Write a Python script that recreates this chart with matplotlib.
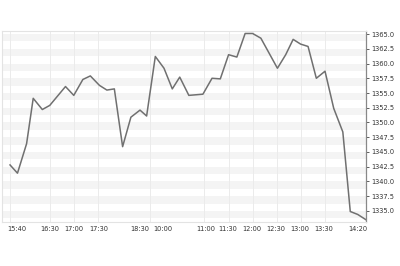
import matplotlib
matplotlib.use("Agg")
import matplotlib.pyplot as plt
import numpy as np

# data (x in bar-index units, y price)
x_pos = [0, 0.9, 2.0, 2.8, 3.9, 4.8, 6.7, 7.7, 8.8, 9.7, 10.8, 11.7, 12.6, 13.6,
         14.6, 15.7, 16.5, 17.55, 18.6, 19.6, 20.5, 21.6, 23.3, 24.4, 25.4, 26.4,
         27.4, 28.4, 29.3, 30.3, 32.3, 33.3, 34.2, 35.1, 36.0, 37.0, 38.05, 39.1,
         40.2, 41.1, 42.0, 43.0]
prices = [1342.8, 1341.4, 1346.4, 1354.1, 1352.2, 1352.9, 1356.1, 1354.6, 1357.3,
          1357.9, 1356.3, 1355.5, 1355.7, 1345.9, 1350.9, 1352.1, 1351.1, 1361.2,
          1359.2, 1355.7, 1357.7, 1354.6, 1354.8, 1357.5, 1357.4, 1361.5, 1361.1,
          1365.1, 1365.1, 1364.3, 1359.2, 1361.5, 1364.1, 1363.3, 1362.9, 1357.5,
          1358.7, 1352.4, 1348.4, 1334.9, 1334.4, 1333.5]

tick_pos = [0.8, 4.84, 7.75, 10.7, 15.7, 18.5, 23.6, 26.3, 29.2, 32.1, 35.0, 37.9, 42.0]
tick_labels = ["15:40", "16:30", "17:00", "17:30", "18:30", "10:00", "11:00",
               "11:30", "12:00", "12:30", "13:00", "13:30", "14:20"]
grid_pos = [0, 4.84, 7.75, 10.65, 16.95, 23.4, 26.4, 29.3, 32.3, 35.1, 38.1]
y_ticks = [1335.0, 1337.5, 1340.0, 1342.5, 1345.0, 1347.5, 1350.0, 1352.5,
           1355.0, 1357.5, 1360.0, 1362.5, 1365.0]

fig = plt.figure(figsize=(4, 2.66), dpi=100)
ax = fig.add_axes([0.005, 0.165, 0.91, 0.718])

for v in y_ticks:
    ax.axhspan(v - 1.25, v, color="#f4f4f4", lw=0, zorder=0)
for g in grid_pos:
    ax.axvline(g, color="#ebebeb", lw=0.7, zorder=0.5)

ax.plot(x_pos, prices, color="#707070", lw=1.1, zorder=3)

ax.set_xlim(-0.97, 43.0)
ax.set_ylim(1333.1, 1365.5)

ax.yaxis.tick_right()
ax.set_yticks(y_ticks)
ax.set_yticklabels([f"{v:.1f}" for v in y_ticks], fontsize=4.8, color="#333333")
ax.tick_params(axis="y", length=2.5, width=0.6, color="#444444", pad=1.5)

ax.set_xticks(tick_pos)
ax.set_xticklabels(tick_labels, fontsize=4.8, color="#333333")
ax.tick_params(axis="x", length=0, pad=3)

for s in ["top", "left", "bottom"]:
    ax.spines[s].set_color("#e3e3e3")
    ax.spines[s].set_linewidth(0.8)
ax.spines["right"].set_color("#888888")
ax.spines["right"].set_linewidth(0.9)

fig.savefig("out.png", dpi=100, facecolor="white")
